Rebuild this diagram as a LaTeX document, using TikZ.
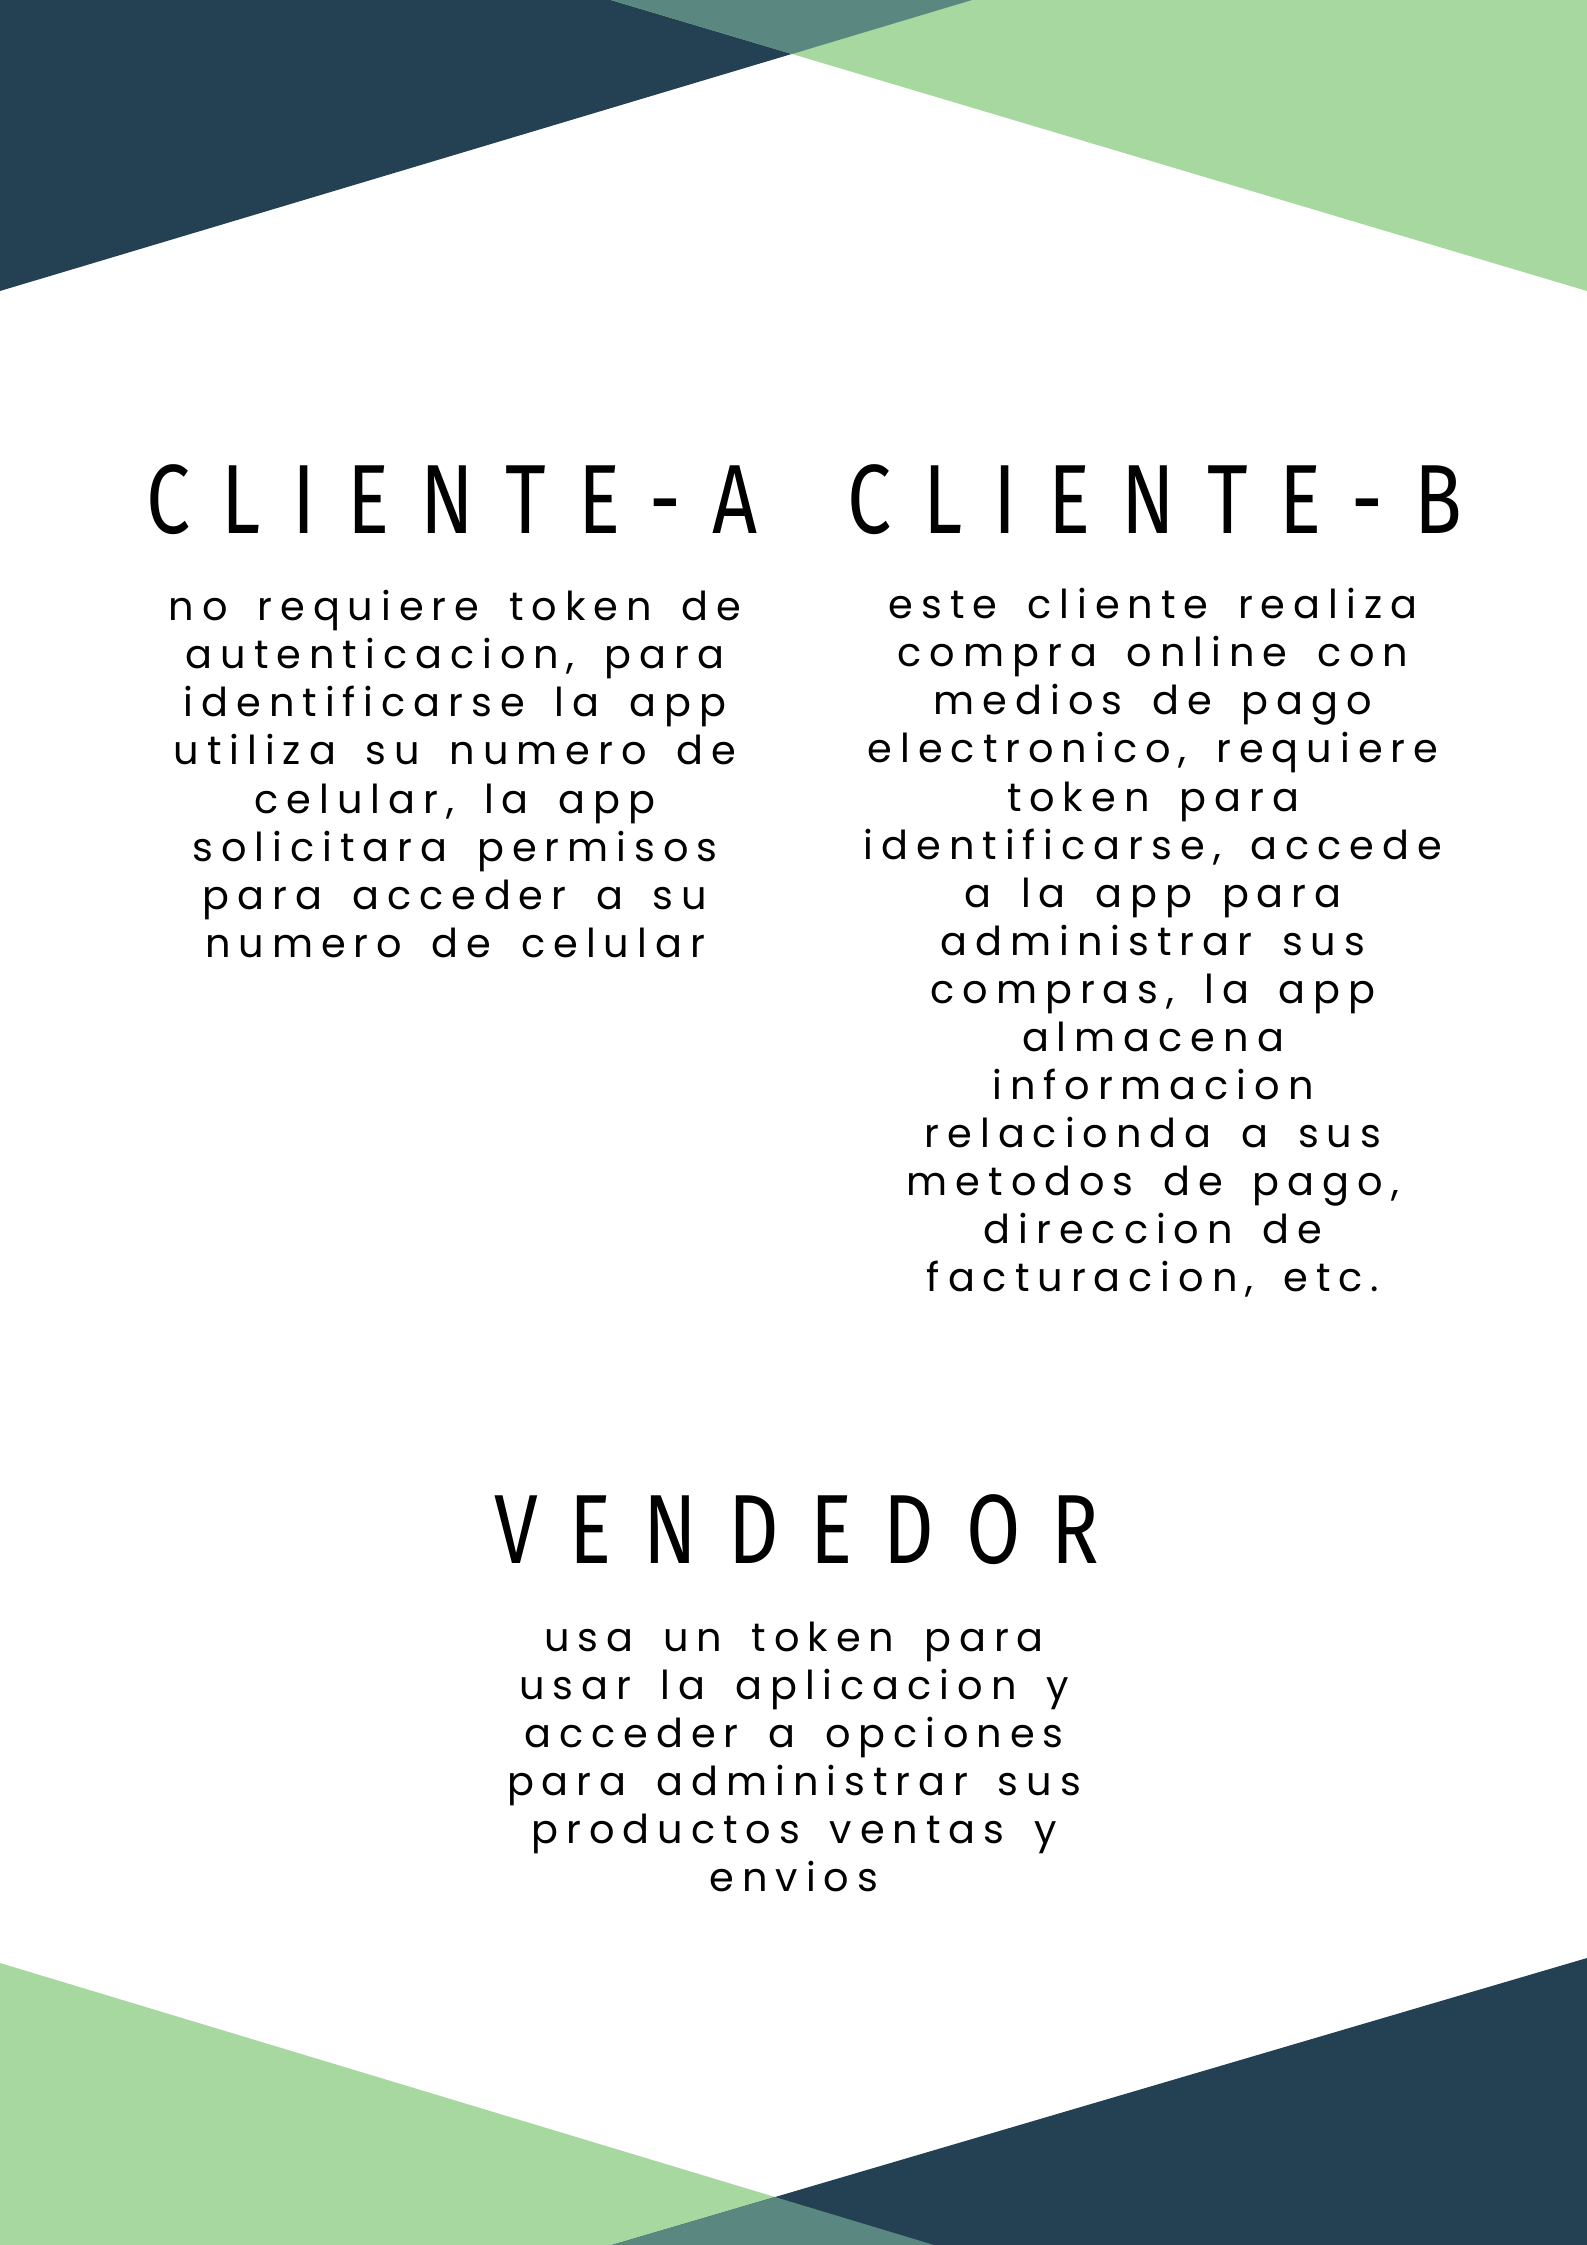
\documentclass[tikz,border=0pt]{standalone}
\usepackage{fontspec}
\newfontfamily\titlefont{Fira Sans}[FakeStretch=0.8, LetterSpace=32]
\newfontfamily\bodyfont{Poppins}[LetterSpace=20, WordSpace=1.6]
\definecolor{navy}{HTML}{234152}
\definecolor{leaf}{HTML}{A6D8A0}
\definecolor{teal}{HTML}{5A8880}
\begin{document}
\begin{tikzpicture}[x=0.013229cm,y=-0.013229cm,
  titletext/.style={font=\titlefont\fontsize{37}{40}\selectfont, inner sep=0, anchor=base},
  bodytext/.style={font=\bodyfont\fontsize{15}{18.1}\selectfont, align=center, inner sep=0}]
\useasboundingbox (0,0) rectangle (1587,2245);
% top shapes
\fill[navy] (0,0) -- (972,0) -- (0,291) -- cycle;
\fill[leaf] (611,0) -- (1587,0) -- (1587,291) -- cycle;
\fill[teal] (611,0) -- (972,0) -- (792,54) -- cycle;
% bottom shapes
\fill[leaf] (0,1963) -- (934,2245) -- (0,2245) -- cycle;
\fill[navy] (1587,1958) -- (1587,2245) -- (612,2245) -- cycle;
\fill[teal] (612,2245) -- (934,2245) -- (775,2197) -- cycle;
% titles
\node[titletext] (ta) at (452,533) {CLIENTE-A};
\node[titletext] (tb) at (1155,533) {CLIENTE-B};
\node[titletext] (tv) at (797,1563) {VENDEDOR};
% bodies
\node[bodytext] (ba) at (455,774) {no requiere token de\\autenticacion, para\\identificarse la app\\utiliza su numero de\\celular, la app\\solicitara permisos\\para acceder a su\\numero de celular};
\node[bodytext] (bb) at (1153,943) {este cliente realiza\\compra online con\\medios de pago\\electronico, requiere\\token para\\identificarse, accede\\a la app para\\administrar sus\\compras, la app\\almacena\\informacion\\relacionda a sus\\metodos de pago,\\direccion de\\facturacion, etc.};
\node[bodytext] (bv) at (794,1757) {usa un token para\\usar la aplicacion y\\acceder a opciones\\para administrar sus\\productos ventas y\\envios};
\end{tikzpicture}
\end{document}
